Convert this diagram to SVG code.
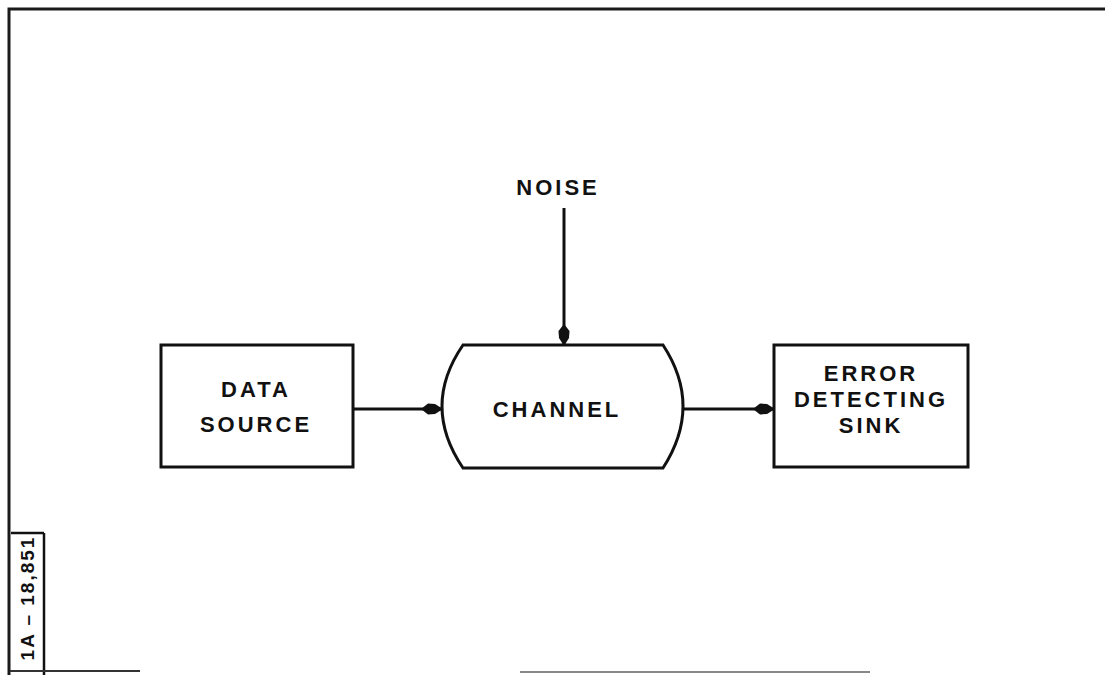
<svg xmlns="http://www.w3.org/2000/svg" width="1105" height="675" viewBox="0 0 1105 675">
<style>
.frame{fill:none;stroke:#1a1a1a;stroke-width:3}
.box{fill:#fff;stroke:#111;stroke-width:3}
.lbl{font-family:"Liberation Sans",Arial,sans-serif;font-weight:bold;font-size:22px;fill:#111;letter-spacing:3px;text-anchor:middle}
.wire{fill:none;stroke:#111;stroke-width:3}
</style>
<defs>
<marker id="ah" viewBox="0 0 22 14" refX="21" refY="7" markerWidth="22" markerHeight="14" markerUnits="userSpaceOnUse" orient="auto">
<path d="M0,7 L7,1.5 L14,2 L22,7 L14,12 L7,12.5 Z" fill="#111"/>
</marker>
</defs>
<rect width="1105" height="675" fill="#fff"/>
<g id="frame">
<path class="frame" d="M9,675 L9,9 L1105,9"/>
<path d="M11,533 L44,533 M44,533 L44,675" fill="none" stroke="#111" stroke-width="2.5"/>
<path d="M10,671 L140,671" stroke="#333" stroke-width="2"/>
<path d="M520,672 L870,672" stroke="#888" stroke-width="2"/>
<text class="lbl" transform="translate(34,598) rotate(-90)" style="font-size:19px;letter-spacing:2px">1A – 18,851</text>
</g>
<g id="connectors">
<line class="wire" x1="353" y1="409" x2="442" y2="409" marker-end="url(#ah)"/>
<line class="wire" x1="683" y1="409" x2="774" y2="409" marker-end="url(#ah)"/>
<line class="wire" x1="564" y1="208" x2="564" y2="345" marker-end="url(#ah)"/>
</g>
<g id="noise">
<text class="lbl" x="558" y="195">NOISE</text>
</g>
<g id="data-source">
<rect class="box" x="161" y="345" width="192" height="122"/>
<text class="lbl" x="256" y="397">DATA</text>
<text class="lbl" x="256" y="432">SOURCE</text>
</g>
<g id="channel">
<path class="box" d="M463,345 L663,345 Q703,406 663,468 L463,468 Q421,406 463,345 Z"/>
<text class="lbl" x="557" y="417">CHANNEL</text>
</g>
<g id="sink">
<rect class="box" x="774" y="345" width="194" height="122"/>
<text class="lbl" x="871" y="381">ERROR</text>
<text class="lbl" x="871" y="407">DETECTING</text>
<text class="lbl" x="871" y="433">SINK</text>
</g>
</svg>
